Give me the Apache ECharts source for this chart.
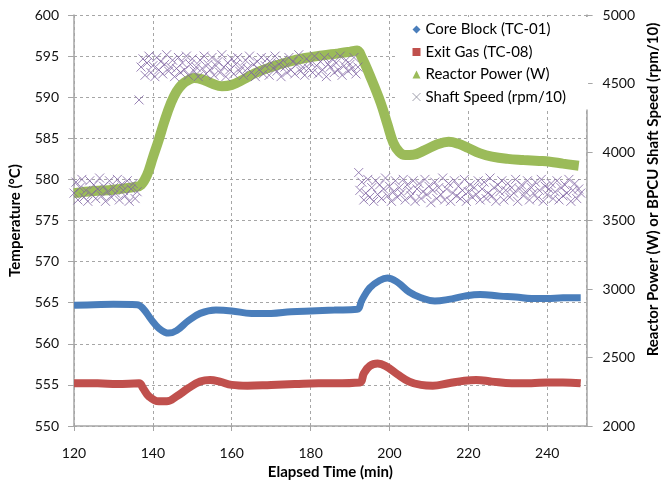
<!DOCTYPE html>
<html>
<head>
<meta charset="utf-8">
<script src="https://cdn.jsdelivr.net/npm/echarts@6/dist/echarts.min.js"></script>
<style>
html,body{margin:0;padding:0;background:#fff;}
#chart{width:669px;height:485px;}
</style>
</head>
<body>
<div id="chart"></div>
<script>
// ---- Data ----
const xTicks = [120, 140, 160, 180, 200, 220, 240];
const leftTicks = [550, 555, 560, 565, 570, 575, 580, 585, 590, 595, 600];
const rightTicks = [2000, 2500, 3000, 3500, 4000, 4500, 5000];

// Core Block (TC-01) [elapsed min, deg C]
const coreBlock = [
  [120, 564.7], [125, 564.75], [130, 564.8], [136, 564.75], [137.5, 564.3], [139.5, 563.0],
  [141.5, 561.9], [144, 561.3], [146, 561.6], [149, 562.8], [152, 563.7], [156, 564.1],
  [160, 564.0], [165, 563.7], [170, 563.7], [175, 563.9], [180, 564.0], [186, 564.1],
  [191.8, 564.2], [193, 565.3], [195, 566.8], [197.5, 567.7], [199.5, 568.0], [202, 567.5],
  [205, 566.3], [208, 565.6], [211.5, 565.2], [215, 565.4], [219, 565.8], [223, 566.0],
  [228, 565.8], [232, 565.7], [236, 565.5], [240, 565.5], [244, 565.6], [248.5, 565.6]
];

// Exit Gas (TC-08) [elapsed min, deg C]
const exitGas = [
  [120, 555.2], [126, 555.2], [131, 555.1], [136.5, 555.2], [137.5, 554.6], [139, 553.6],
  [141.5, 553.0], [143.5, 553.0], [146, 553.6], [149, 554.6], [152, 555.4], [154.5, 555.6],
  [157, 555.4], [160, 555.0], [164, 554.9], [170, 555.0], [176, 555.1], [182, 555.2],
  [186, 555.2], [192.5, 555.3], [193.5, 556.4], [195, 557.3], [197, 557.6], [199, 557.3],
  [202, 556.3], [205, 555.4], [208, 555.0], [211, 554.9], [215, 555.2], [219, 555.5],
  [222, 555.6], [226, 555.4], [231, 555.2], [236, 555.2], [240, 555.3], [244, 555.3], [248.5, 555.2]
];

// Reactor Power (W) [elapsed min, W]
const reactorPower = [
  [120, 3700], [125, 3715], [130, 3725], [135.5, 3745], [137, 3760], [138.5, 3830],
  [140, 3960], [141.5, 4090], [143, 4230], [144.6, 4358], [146, 4440], [147.5, 4495],
  [149, 4525], [150.5, 4540], [152.5, 4530], [155, 4500], [157.5, 4480], [160, 4490],
  [163, 4530], [166, 4577], [170, 4620], [174, 4655], [178.6, 4686], [183, 4705],
  [187, 4720], [190, 4732], [191.8, 4740], [193, 4690], [195, 4560], [197.8, 4357],
  [199.5, 4200], [201, 4066], [202.5, 4000], [204, 3978], [206, 3980], [209, 4014],
  [212, 4055], [215, 4075], [217.5, 4060], [220, 4029], [223, 3990], [226, 3966],
  [230, 3950], [234, 3942], [238, 3935], [240.7, 3929], [244, 3915], [248, 3900]
];

// Shaft Speed (rpm/10): logged every 0.5 min
const speedStep = 0.5;
const speedStartA = 120;
const speedA = [3700, 3780, 3650, 3740, 3800, 3670, 3720, 3640, 3790, 3690, 3760, 3660, 3730, 3810, 3680, 3750,
  3640, 3710, 3790, 3670, 3740, 3700, 3800, 3650, 3760, 3720, 3680, 3790, 3640, 3730, 3770, 3660, 3710];
const speedOutliers = [[136.5, 4380], [192.2, 3850]];
const speedStartB = 137;
const speedB = [4620, 4680, 4560, 4650, 4700, 4580, 4630, 4550, 4690, 4600, 4660, 4570, 4640, 4710, 4590,
  4620, 4670, 4550, 4610, 4690, 4580, 4650, 4600, 4700, 4560, 4640, 4680, 4590, 4620, 4550,
  4670, 4610, 4700, 4570, 4640, 4600, 4690, 4560, 4630, 4660, 4580, 4710, 4620, 4550, 4650,
  4600, 4680, 4570, 4640, 4690, 4590, 4620, 4560, 4670, 4610, 4700, 4580, 4640, 4550, 4660,
  4600, 4690, 4570, 4630, 4680, 4560, 4650, 4610, 4700, 4590, 4640, 4550, 4670, 4620, 4580,
  4690, 4600, 4660, 4570, 4640, 4710, 4590, 4620, 4560, 4680, 4610, 4650, 4580, 4700, 4630,
  4570, 4660, 4600, 4690, 4550, 4640, 4620, 4680, 4580, 4650, 4600, 4700, 4560, 4630, 4670,
  4590, 4640, 4610, 4690, 4570, 4620];
const speedStartC = 192.5;
const speedC = [3720, 3780, 3650, 3700, 3800, 3670, 3740, 3640, 3790, 3690, 3760, 3660, 3730, 3810, 3680,
  3750, 3640, 3710, 3790, 3670, 3740, 3700, 3800, 3650, 3760, 3720, 3680, 3790, 3640, 3730,
  3770, 3660, 3710, 3800, 3690, 3750, 3630, 3720, 3780, 3660, 3740, 3690, 3810, 3650, 3730,
  3770, 3640, 3700, 3790, 3680, 3750, 3660, 3720, 3800, 3640, 3710, 3760, 3670, 3740, 3690,
  3790, 3650, 3730, 3780, 3660, 3700, 3810, 3680, 3740, 3640, 3760, 3710, 3790, 3650, 3720,
  3770, 3670, 3740, 3700, 3800, 3640, 3730, 3760, 3680, 3710, 3790, 3650, 3740, 3700, 3780,
  3660, 3720, 3800, 3640, 3750, 3690, 3730, 3770, 3660, 3710, 3790, 3650, 3740, 3680, 3760,
  3700, 3800, 3640, 3720, 3770, 3660, 3730, 3700];

function sampled(start, vals) {
  return vals.map((v, i) => [start + i * speedStep, v]);
}
const shaftSpeed = [].concat(
  sampled(speedStartA, speedA), sampled(speedStartB, speedB), sampled(speedStartC, speedC), speedOutliers
).sort((a, b) => a[0] - b[0]);

// ---- Chart ----
const FONT = 'Lato, "Open Sans", "Liberation Sans", sans-serif';
const GRID_COL = '#a6a6a6';
const X_PATH = 'path://M0,0L10,10M10,0L0,10';
const COLORS = { core: '#4a7ebb', gas: '#c0504d', power: '#9bbb59', speed: '#8064a2' };

const chart = echarts.init(document.getElementById('chart'), null, { renderer: 'canvas' });
chart.setOption({
  animation: false,
  backgroundColor: '#fff',
  textStyle: { fontFamily: FONT },
  grid: { left: 74, right: 72, top: 15, bottom: 59, containLabel: false },
  legend: {
    orient: 'vertical',
    left: 395, top: 17,
    padding: [4, 22, 4, 17],
    backgroundColor: '#fff',
    itemGap: 5.5,
    itemWidth: 8, itemHeight: 8,
    textStyle: { fontFamily: FONT, fontSize: 15, lineHeight: 17, color: '#000' },
    data: [
      { name: 'Core Block (TC-01)', icon: 'diamond', itemStyle: { color: COLORS.core } },
      { name: 'Exit Gas (TC-08)', icon: 'rect', itemStyle: { color: COLORS.gas } },
      { name: 'Reactor Power (W)', icon: 'triangle', itemStyle: { color: COLORS.power } },
      { name: 'Shaft Speed (rpm/10)', icon: X_PATH, itemStyle: { color: 'transparent', borderColor: '#8a8a9a', borderWidth: 1 } }
    ]
  },
  xAxis: {
    type: 'value', min: 120, max: 250, interval: 20,
    name: 'Elapsed Time (min)', nameLocation: 'middle', nameGap: 33,
    nameTextStyle: { fontFamily: FONT, fontSize: 15, fontWeight: 'bold', color: '#000' },
    axisLine: { show: true, lineStyle: { color: GRID_COL, width: 1.5 } },
    axisTick: { show: true, length: 5, lineStyle: { color: GRID_COL } },
    axisLabel: { margin: 20, fontSize: 14, color: '#111', fontFamily: FONT, showMaxLabel: false,
      formatter: v => (xTicks.indexOf(v) >= 0 ? String(v) : '') },
    splitLine: { show: true, lineStyle: { color: GRID_COL, type: [3, 3], width: 1 } }
  },
  yAxis: [
    {
      type: 'value', min: leftTicks[0], max: leftTicks[leftTicks.length - 1], interval: 5,
      position: 'left',
      name: 'Temperature (°C)', nameLocation: 'middle', nameGap: 51,
      nameTextStyle: { fontFamily: FONT, fontSize: 15, fontWeight: 'bold', color: '#000' },
      axisLine: { show: true, lineStyle: { color: GRID_COL, width: 1.5 } },
      axisTick: { show: true, length: 6, lineStyle: { color: GRID_COL } },
      axisLabel: { margin: 15, fontSize: 14, color: '#111', fontFamily: FONT,
        formatter: v => String(v) },
      splitLine: { show: true, lineStyle: { color: GRID_COL, type: [3, 3], width: 1 } }
    },
    {
      type: 'value', min: rightTicks[0], max: rightTicks[rightTicks.length - 1], interval: 500,
      position: 'right',
      name: 'Reactor Power (W) or BPCU Shaft Speed (rpm/10)', nameLocation: 'middle', nameGap: 57,
      nameTextStyle: { fontFamily: FONT, fontSize: 15, fontWeight: 'bold', color: '#000', padding: [0, 0, 0, 62] },
      axisLine: { show: true, lineStyle: { color: GRID_COL, width: 1.5 } },
      axisTick: { show: true, length: 6, lineStyle: { color: GRID_COL } },
      axisLabel: { margin: 16, fontSize: 14, color: '#111', fontFamily: FONT,
        formatter: v => String(v) },
      splitLine: { show: false }
    }
  ],
  series: [
    {
      name: 'Core Block (TC-01)', type: 'line', yAxisIndex: 0, data: coreBlock,
      smooth: 0.4, showSymbol: false, symbol: 'diamond',
      lineStyle: { color: COLORS.core, width: 7 }, itemStyle: { color: COLORS.core }, z: 2
    },
    {
      name: 'Exit Gas (TC-08)', type: 'line', yAxisIndex: 0, data: exitGas,
      smooth: 0.4, showSymbol: false, symbol: 'rect',
      lineStyle: { color: COLORS.gas, width: 8 }, itemStyle: { color: COLORS.gas }, z: 2
    },
    {
      name: 'Reactor Power (W)', type: 'line', yAxisIndex: 1, data: reactorPower,
      smooth: 0.4, showSymbol: false, symbol: 'triangle',
      lineStyle: { color: COLORS.power, width: 10 }, itemStyle: { color: COLORS.power }, z: 2
    },
    {
      name: 'Shaft Speed (rpm/10)', type: 'scatter', yAxisIndex: 1, data: shaftSpeed,
      symbol: X_PATH, symbolSize: 9,
      itemStyle: { color: 'transparent', borderColor: '#8064a2', borderWidth: 1 }, z: 3
    }
  ]
});
</script>
</body>
</html>
